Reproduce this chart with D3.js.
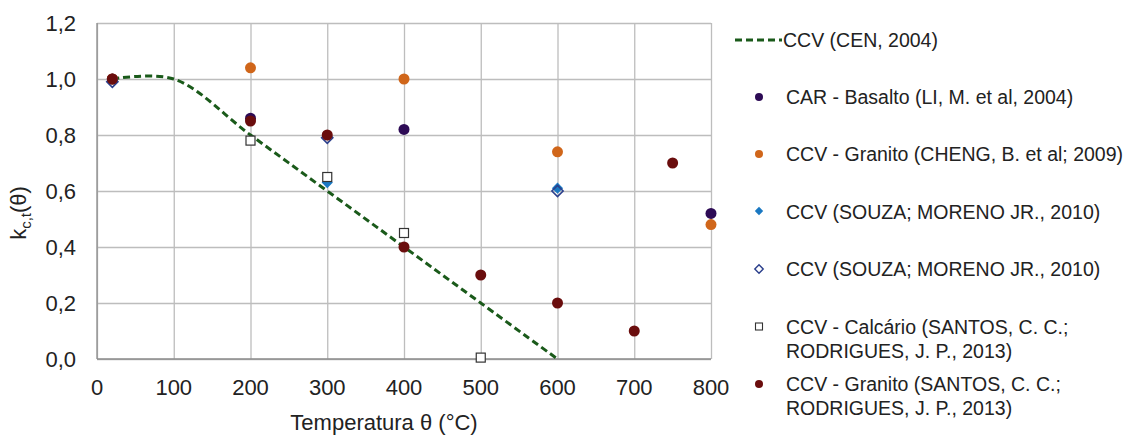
<!DOCTYPE html>
<html>
<head>
<meta charset="utf-8">
<script src="https://cdn.jsdelivr.net/npm/d3@7"></script>
<style>
  body { margin: 0; background: white; }
  svg { font-family: "Liberation Sans", Arial, sans-serif; }
</style>
</head>
<body>
<div class="chart"></div>
<script>
// data
var xTicks = [0, 100, 200, 300, 400, 500, 600, 700, 800];
var yTicks = [0, 0.2, 0.4, 0.6, 0.8, 1.0, 1.2];

var cenTemp = [20, 100, 200, 300, 400, 500, 600];
var cenK = [1.0, 1.0, 0.8, 0.6, 0.4, 0.2, 0.0];

var basaltoTemp = [20, 200, 400, 800];
var basaltoK = [1.0, 0.86, 0.82, 0.52];

var chengTemp = [20, 200, 400, 600, 800];
var chengK = [1.0, 1.04, 1.0, 0.74, 0.48];

var souzaTemp = [20, 300, 600];
var souzaK = [1.0, 0.63, 0.61];

var souza2Temp = [20, 300, 600];
var souza2K = [0.99, 0.79, 0.60];

var calcTemp = [200, 300, 400, 500];
var calcK = [0.78, 0.65, 0.45, 0.005];

var santosTemp = [20, 200, 300, 400, 500, 600, 700, 750];
var santosK = [1.0, 0.85, 0.80, 0.40, 0.30, 0.20, 0.10, 0.70];

var width = 1133,
    height = 437,
    plotLeft = 97, plotRight = 711,
    plotTop = 23, plotBottom = 359;

var x = d3.scaleLinear().domain([0, 800]).range([plotLeft, plotRight]);
var y = d3.scaleLinear().domain([0, 1.2]).range([plotBottom, plotTop]);

var svg = d3.select('.chart').append('svg')
    .attr('width', width)
    .attr('height', height)
    .style('background', 'white');

// grid
svg.append('g')
    .attr('transform', 'translate(0,' + plotBottom + ')')
    .call(d3.axisBottom(x).tickValues(xTicks).tickSize(-(plotBottom - plotTop)).tickFormat(''))
    .call(function(g) {
        g.select('.domain').remove();
        g.selectAll('line').attr('stroke', '#bdbdbd').attr('stroke-width', 1.3);
    });
svg.append('g')
    .attr('transform', 'translate(' + plotLeft + ',0)')
    .call(d3.axisLeft(y).tickValues(yTicks).tickSize(-(plotRight - plotLeft)).tickFormat(''))
    .call(function(g) {
        g.select('.domain').remove();
        g.selectAll('line').attr('stroke', '#bdbdbd').attr('stroke-width', 1.3);
    });

// axis lines
svg.append('line').attr('x1', plotLeft).attr('x2', plotLeft).attr('y1', plotTop).attr('y2', plotBottom)
    .attr('stroke', '#8c8c8c').attr('stroke-width', 1.3);
svg.append('line').attr('x1', plotLeft).attr('x2', plotRight).attr('y1', plotBottom).attr('y2', plotBottom)
    .attr('stroke', '#8c8c8c').attr('stroke-width', 1.3);

// tick labels
var fmt = function(d) { return d3.format('.1f')(d).replace('.', ','); };
svg.append('g').selectAll('text').data(xTicks)
    .enter().append('text')
    .attr('x', function(d) { return x(d); })
    .attr('y', 395)
    .attr('text-anchor', 'middle')
    .attr('font-size', 22)
    .attr('fill', '#222')
    .text(function(d) { return d; });
svg.append('g').selectAll('text').data(yTicks)
    .enter().append('text')
    .attr('x', 76)
    .attr('y', function(d) { return y(d) + 8; })
    .attr('text-anchor', 'end')
    .attr('font-size', 22)
    .attr('fill', '#222')
    .text(fmt);

// axis titles
svg.append('text')
    .attr('x', 384).attr('y', 430)
    .attr('text-anchor', 'middle')
    .attr('font-size', 22)
    .attr('fill', '#222')
    .text('Temperatura θ (°C)');

var yt = svg.append('text')
    .attr('transform', 'translate(26,' + 213 + ') rotate(-90)')
    .attr('text-anchor', 'middle')
    .attr('font-size', 22)
    .attr('fill', '#222');
yt.append('tspan').text('k');
yt.append('tspan').attr('font-size', 15).attr('dy', 5).text('c,t');
yt.append('tspan').attr('dy', -5).text('(θ)');

// CEN curve
var cen = cenTemp.map(function(t, i) { return [t, cenK[i]]; });
var line = d3.line()
    .x(function(d) { return x(d[0]); })
    .y(function(d) { return y(d[1]); })
    .curve(d3.curveCatmullRom.alpha(0.5));
svg.append('path')
    .datum(cen)
    .attr('d', line)
    .attr('fill', 'none')
    .attr('stroke', '#1a5a1a')
    .attr('stroke-width', 3)
    .attr('stroke-dasharray', '7,4');

function pts(t, k) { return t.map(function(d, i) { return [d, k[i]]; }); }

var diamond = d3.symbol().type(d3.symbolDiamond2 || d3.symbolDiamond).size(80);
var diamondL = d3.symbol().type(d3.symbolDiamond2 || d3.symbolDiamond).size(45);

// CAR basalto
svg.append('g').selectAll('circle').data(pts(basaltoTemp, basaltoK))
    .enter().append('circle')
    .attr('cx', function(d) { return x(d[0]); })
    .attr('cy', function(d) { return y(d[1]); })
    .attr('r', 5.5)
    .attr('fill', '#2d0b55');

// CHENG granito
svg.append('g').selectAll('circle').data(pts(chengTemp, chengK))
    .enter().append('circle')
    .attr('cx', function(d) { return x(d[0]); })
    .attr('cy', function(d) { return y(d[1]); })
    .attr('r', 5.5)
    .attr('fill', '#d0661a');

// SOUZA filled
svg.append('g').selectAll('path').data(pts(souzaTemp, souzaK))
    .enter().append('path')
    .attr('d', diamond)
    .attr('transform', function(d) { return 'translate(' + x(d[0]) + ',' + y(d[1]) + ')'; })
    .attr('fill', '#1a78c2');

// SOUZA open
svg.append('g').selectAll('path').data(pts(souza2Temp, souza2K))
    .enter().append('path')
    .attr('d', diamond)
    .attr('transform', function(d) { return 'translate(' + x(d[0]) + ',' + y(d[1]) + ')'; })
    .attr('fill', 'none')
    .attr('stroke', '#2b3f8c')
    .attr('stroke-width', 1.6);

// Calcario squares
svg.append('g').selectAll('rect').data(pts(calcTemp, calcK))
    .enter().append('rect')
    .attr('x', function(d) { return x(d[0]) - 4.5; })
    .attr('y', function(d) { return y(d[1]) - 4.5; })
    .attr('width', 9)
    .attr('height', 9)
    .attr('fill', 'white')
    .attr('stroke', '#333')
    .attr('stroke-width', 1.2);

// SANTOS granito
svg.append('g').selectAll('circle').data(pts(santosTemp, santosK))
    .enter().append('circle')
    .attr('cx', function(d) { return x(d[0]); })
    .attr('cy', function(d) { return y(d[1]); })
    .attr('r', 5.5)
    .attr('fill', '#6a0d0d');

// legend
var lg = svg.append('g').attr('font-size', 19.5).attr('fill', '#222');
var tx = 786, mx = 759;

lg.append('line').attr('x1', 735).attr('x2', 782).attr('y1', 40).attr('y2', 40)
    .attr('stroke', '#1a5a1a').attr('stroke-width', 3).attr('stroke-dasharray', '7,4');
lg.append('text').attr('x', tx - 3).attr('y', 47).text('CCV (CEN, 2004)');

lg.append('circle').attr('cx', mx).attr('cy', 97).attr('r', 4).attr('fill', '#2d0b55');
lg.append('text').attr('x', tx).attr('y', 104).text('CAR - Basalto (LI, M. et al, 2004)');

lg.append('circle').attr('cx', mx).attr('cy', 154).attr('r', 4).attr('fill', '#d0661a');
lg.append('text').attr('x', tx).attr('y', 161).text('CCV - Granito (CHENG, B. et al; 2009)');

lg.append('path').attr('d', diamondL).attr('transform', 'translate(' + mx + ',211)').attr('fill', '#1a78c2');
lg.append('text').attr('x', tx).attr('y', 219).text('CCV (SOUZA; MORENO JR., 2010)');

lg.append('path').attr('d', diamondL).attr('transform', 'translate(' + mx + ',269)')
    .attr('fill', 'none').attr('stroke', '#2b3f8c').attr('stroke-width', 1.4);
lg.append('text').attr('x', tx).attr('y', 276).text('CCV (SOUZA; MORENO JR., 2010)');

lg.append('rect').attr('x', mx - 3.5).attr('y', 323).attr('width', 7).attr('height', 7)
    .attr('fill', 'white').attr('stroke', '#333').attr('stroke-width', 1.1);
lg.append('text').attr('x', tx).attr('y', 334).text('CCV - Calcário (SANTOS, C. C.;');
lg.append('text').attr('x', tx).attr('y', 358).text('RODRIGUES, J. P., 2013)');

lg.append('circle').attr('cx', mx).attr('cy', 384).attr('r', 4).attr('fill', '#6a0d0d');
lg.append('text').attr('x', tx).attr('y', 391).text('CCV - Granito (SANTOS, C. C.;');
lg.append('text').attr('x', tx).attr('y', 415).text('RODRIGUES, J. P., 2013)');
</script>
</body>
</html>
